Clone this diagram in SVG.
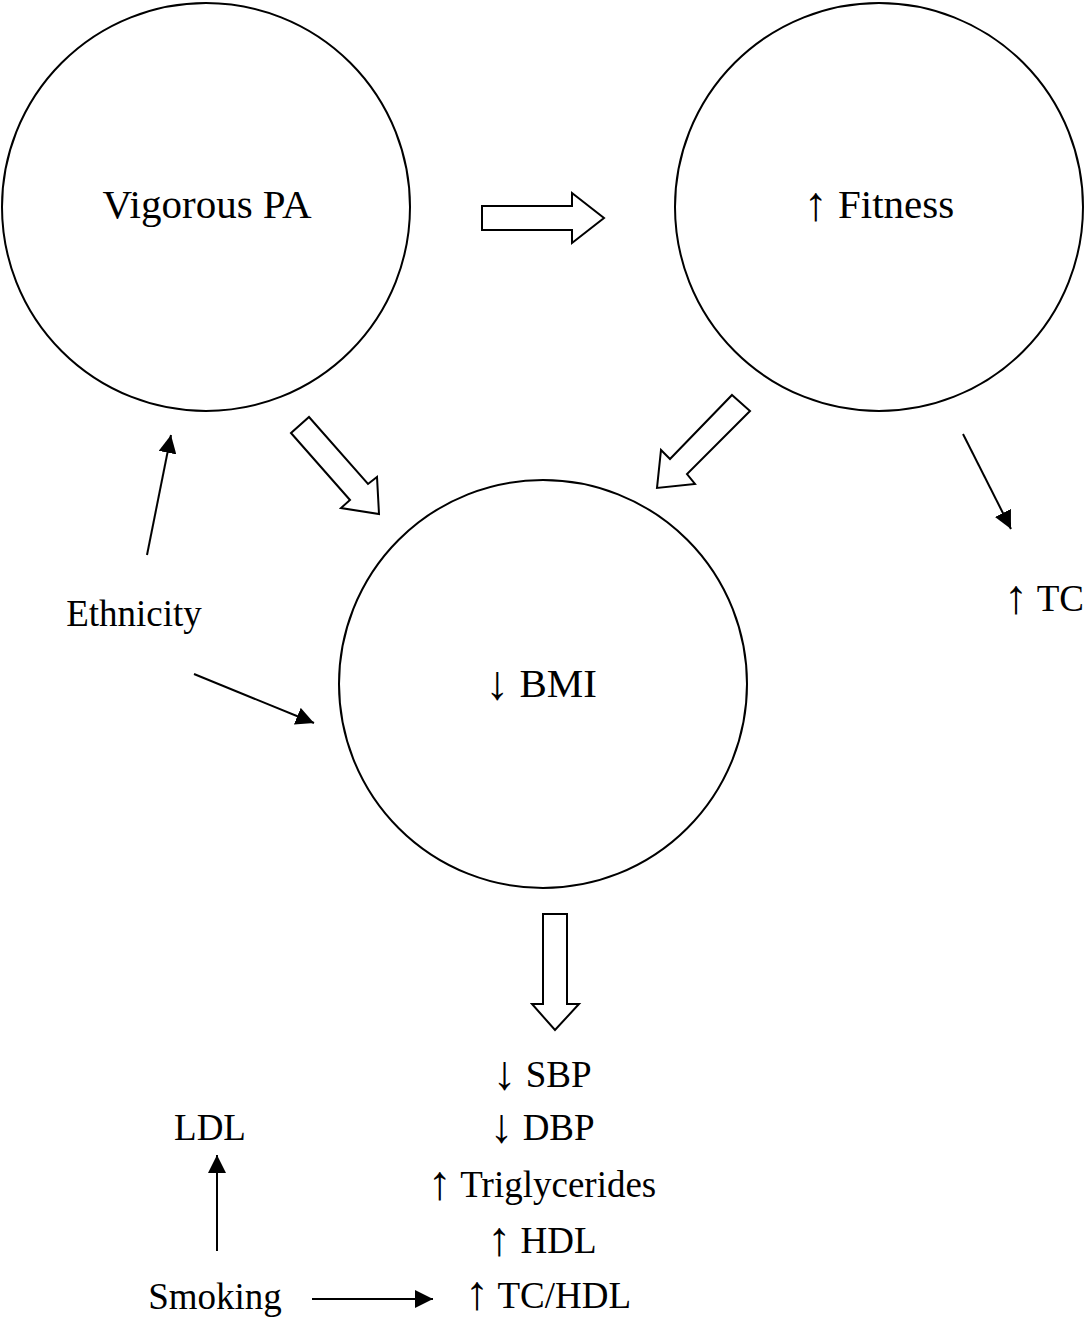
<svg xmlns="http://www.w3.org/2000/svg" width="1085" height="1319" viewBox="0 0 1085 1319">
<defs>
<style>
.node{fill:#fff;stroke:#000;stroke-width:2}
.block{fill:#fff;stroke:#000;stroke-width:2;stroke-linejoin:miter}
.thin{stroke:#000;stroke-width:2;fill:none}
.t{font-family:"Liberation Serif","Times New Roman",serif;fill:#000}
.big{font-size:41px}
.sm{font-size:37px}
.ar{font-size:48px}
</style>
<marker id="ah2" viewBox="0 0 10 10" refX="10" refY="5" markerWidth="18" markerHeight="18" markerUnits="userSpaceOnUse" orient="auto">
<path d="M0,0 L10,5 L0,10 z" fill="#000"/>
</marker>
</defs>
<rect width="1085" height="1319" fill="#fff"/>
<g id="node-vigorous">
<circle class="node" cx="206" cy="207" r="204"/>
<text class="t big" x="207" y="218" text-anchor="middle">Vigorous PA</text>
</g>
<g id="node-fitness">
<circle class="node" cx="879" cy="207" r="204"/>
<text class="t big" x="879" y="218" text-anchor="middle"><tspan class="ar" dy="2">↑</tspan><tspan dy="-2"> Fitness</tspan></text>
</g>
<g id="node-bmi">
<circle class="node" cx="543" cy="684" r="204"/>
<text class="t big" x="541" y="697" text-anchor="middle"><tspan class="ar" dy="2">↓</tspan><tspan dy="-2"> BMI</tspan></text>
</g>
<g id="node-ethnicity"><text class="t sm" x="134" y="626" text-anchor="middle">Ethnicity</text></g>
<g id="node-tc"><text class="t sm" x="1044" y="611" text-anchor="middle"><tspan class="ar" dy="2">↑</tspan><tspan dy="-2"> TC</tspan></text></g>
<g id="node-outcomes">
<text class="t sm" x="542" y="1087" text-anchor="middle"><tspan class="ar" dy="2">↓</tspan><tspan dy="-2"> SBP</tspan></text>
<text class="t sm" x="542" y="1140" text-anchor="middle"><tspan class="ar" dy="2">↓</tspan><tspan dy="-2"> DBP</tspan></text>
<text class="t sm" x="542" y="1197" text-anchor="middle"><tspan class="ar" dy="2">↑</tspan><tspan dy="-2"> Triglycerides</tspan></text>
<text class="t sm" x="542" y="1253" text-anchor="middle"><tspan class="ar" dy="2">↑</tspan><tspan dy="-2"> HDL</tspan></text>
<text class="t sm" x="548" y="1308" text-anchor="middle"><tspan class="ar" dy="1">↑</tspan><tspan dy="-1"> TC/HDL</tspan></text>
</g>
<g id="node-ldl"><text class="t sm" x="210" y="1140" text-anchor="middle">LDL</text></g>
<g id="node-smoking"><text class="t sm" x="215" y="1309" text-anchor="middle">Smoking</text></g>
<g id="connectors">
<polygon class="block" points="482,206 572,206 572,193 604,218 572,243 572,230 482,230"/>
<polygon class="block" points="291,433 309,417 368,484 377,477 379,514 341,508 350,500"/>
<polygon class="block" points="732,395 750,411 687,474 695,484 657,488 661,450 670,459"/>
<polygon class="block" points="543,914 567,914 567,1004 579,1004 555,1030 532,1004 543,1004"/>
<line class="thin" x1="963" y1="434" x2="1011" y2="529" marker-end="url(#ah2)"/>
<line class="thin" x1="147" y1="555" x2="171" y2="435" marker-end="url(#ah2)"/>
<line class="thin" x1="194" y1="674" x2="314" y2="723" marker-end="url(#ah2)"/>
<line class="thin" x1="217" y1="1251" x2="217" y2="1155" marker-end="url(#ah2)"/>
<line class="thin" x1="312" y1="1299" x2="433" y2="1299" marker-end="url(#ah2)"/>
</g>
</svg>
